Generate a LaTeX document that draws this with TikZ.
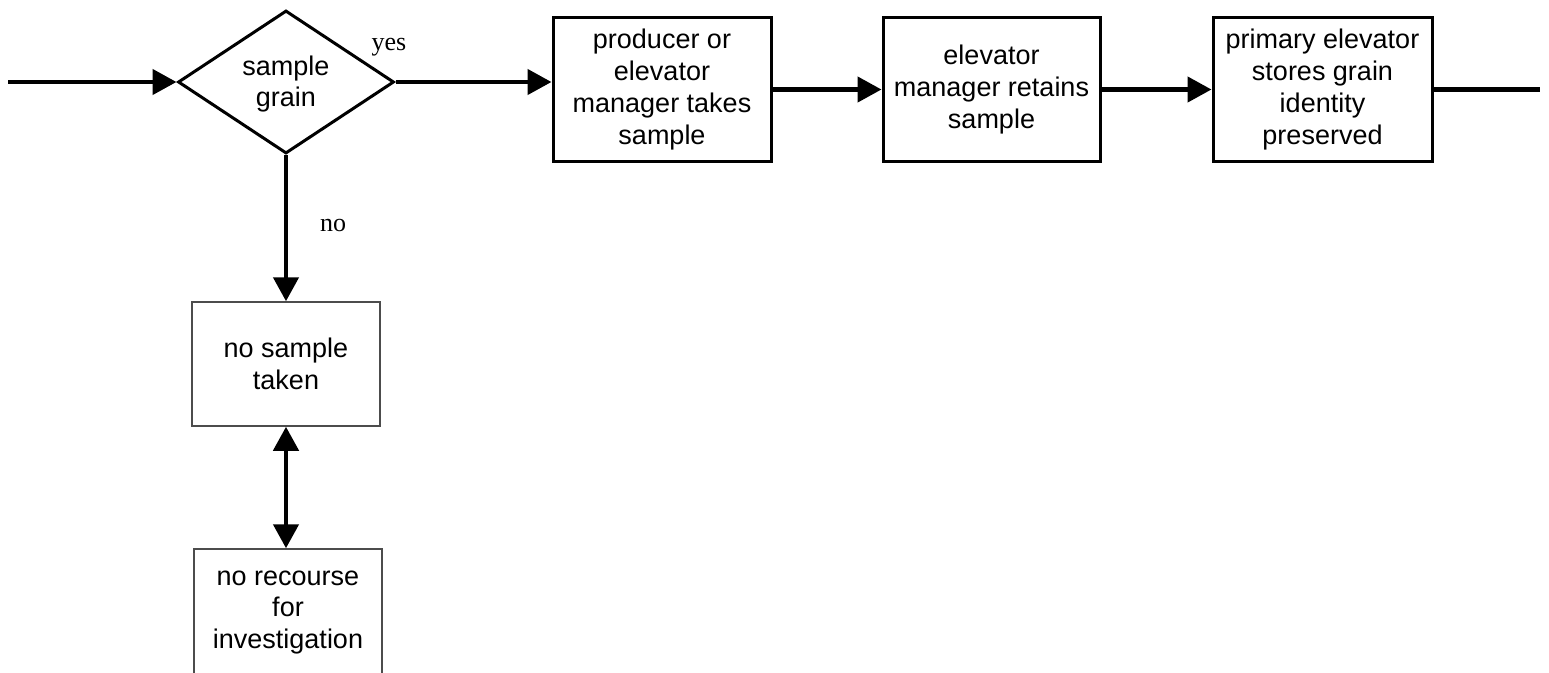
\documentclass[tikz,border=0pt]{standalone}
\usepackage{fontspec}
\setmainfont{Liberation Sans}
\newfontfamily\labelfont{Liberation Serif}
\usetikzlibrary{shapes.geometric,arrows.meta}

\begin{document}
\begin{tikzpicture}[x=1pt,y=-1pt,
  flow/.style={line width=4.5pt,-{Triangle[length=24pt,width=25pt]}},
  twoway/.style={line width=4.5pt,{Triangle[length=24pt,width=25pt]}-{Triangle[length=24pt,width=25pt]}},
  plainline/.style={line width=4.5pt},
  boxtext/.style={align=center,font=\fontsize{27}{31.8}\selectfont},
  boldbox/.style={draw,line width=3pt,rectangle,inner sep=0pt,boxtext},
  thinbox/.style={draw=black!70,line width=1.5pt,rectangle,inner sep=0pt,boxtext},
  decision/.style={draw,line width=3pt,diamond,aspect=1.5,inner sep=0pt},
  answer/.style={font=\labelfont\fontsize{26}{29}\selectfont,inner sep=0pt}]
  \useasboundingbox (0,0) rectangle (1549,672);

  % decision and process boxes
  \node[decision,minimum width=216pt,minimum height=143pt] (dia) at (286,82) {};
  \node[boxtext,inner sep=0pt] (diatext) at (286,84) {sample\\grain};
  \node[boldbox,minimum width=218pt,minimum height=144pt] (box1) at (662,89.5)
    {producer or\\elevator\\manager takes\\sample};
  \node[boldbox,minimum width=217pt,minimum height=144pt] (box2) at (991.5,89.5)
    {elevator\\manager retains\\sample};
  \node[boldbox,minimum width=219pt,minimum height=144pt] (box3) at (1322.5,89.5)
    {primary elevator\\stores grain\\identity\\preserved};
  \node[thinbox,minimum width=188pt,minimum height=124pt] (nosample) at (286,364)
    {no sample\\taken};
  \node[thinbox,minimum width=188pt,minimum height=127pt] (norecourse) at (288,612.5)
    {no recourse\\for\\investigation};

  % free ends of the main line
  \coordinate (in) at (8,82);
  \coordinate (out) at (1540,89.5);

  % connectors
  \draw[flow] (in) -- (dia.west);
  \draw[flow] (dia.east) -- (dia.east -| box1.west);
  \draw[flow] (box1.east) -- (box2.west);
  \draw[flow] (box2.east) -- (box3.west);
  \draw[plainline] (box3.east) -- (out);
  \draw[flow] (dia.south) -- (nosample.north);
  \draw[twoway] (nosample.south) -- (nosample.south |- norecourse.north);

  % branch labels
  \node[answer] (yes) at (389,47) {yes};
  \node[answer] (no) at (333,225) {no};
\end{tikzpicture}
\end{document}
